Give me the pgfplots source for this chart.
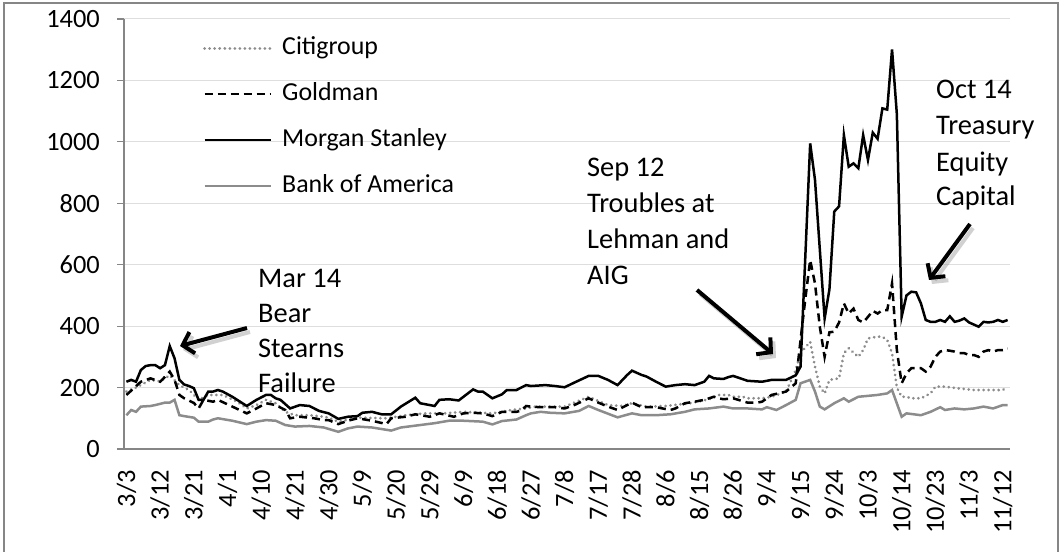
\documentclass[border=0pt]{standalone}
\usepackage{fontspec}
\setmainfont{Carlito}
\usepackage{pgfplots}
\pgfplotsset{compat=1.18}
\usetikzlibrary{arrows.meta}
\definecolor{citi}{RGB}{140,140,140}
\definecolor{bofa}{RGB}{140,140,140}
\definecolor{gridc}{RGB}{222,222,222}
\definecolor{axisc}{RGB}{134,134,134}
\begin{document}
\begin{tikzpicture}[x=1bp,y=1bp]
\useasboundingbox (0,0) rectangle (1061,552);
\draw[axisc, line width=1.8bp] (4,-5) -- (4,549) -- (1058,549) -- (1058,-5);
\begin{axis}[
  at={(124bp,103bp)}, anchor=south west,
  scale only axis, width=886bp, height=430bp,
  xmin=-0.5, xmax=183.5, ymin=0, ymax=1400,
  axis x line*=bottom, axis y line*=left,
  axis line style={axisc, line width=1.2bp},
  ytick={0,200,...,1400},
  /pgf/number format/assume math mode=true,
  /pgf/number format/1000 sep={},
  ymajorgrids, grid style={gridc, line width=1bp},
  ytick align=outside, ytick style={axisc, line width=1.2bp},
  major tick length=7bp,
  xtick={0,7,...,182},
  xticklabels={3/3,3/12,3/21,4/1,4/10,4/21,4/30,5/9,5/20,5/29,6/9,6/18,6/27,7/8,7/17,7/28,8/6,8/15,8/26,9/4,9/15,9/24,10/3,10/14,10/23,11/3,11/12},
  xtick style={draw=none},
  extra x ticks={-0.5,9.5,...,179.5},
  extra x tick labels={},
  extra x tick style={grid=none, tick align=outside, major tick length=8bp, tick style={axisc, line width=1.2bp}},
  ticklabel style={font=\fontsize{26.5}{30}\selectfont},
  xticklabel shift=21bp,
  xticklabel style={rotate=90, anchor=east, inner sep=0pt},
  yticklabel style={anchor=east, inner sep=0pt, xshift=-17bp},
  legend style={at={(rel axis cs:0.0858,0.965)}, anchor=north west, draw=none, fill=none,
    font=\fontsize{26}{30}\selectfont, row sep=22bp, column sep=10bp,
    nodes={inner sep=0pt, text height=18bp, text depth=6bp}},
  legend cell align=left,
  legend image code/.code={\draw[#1] (0bp,0bp) -- (66bp,0bp);},
]
\addplot[citi, line width=3bp, line cap=round, dash pattern=on 0.01bp off 5bp] coordinates {
(0,187)(2,200)(5,225)(7,220)(9,240)(11,208)(13,192)(15,160)(17,176)(20,176)(23,154)(25,132)(27,143)(29,160)(31,149)(33,121)(35,110)(38,110)(41,105)(42,102)(44,89)(48,102)(54,100)(58,110)(62,116)(66,116)(70,121)(76,116)(80,127)(83,132)(85,138)(91,138)(96,170)(100,143)(103,140)(105,149)(108,138)(112,140)(117,149)(121,162)(123,176)(125,176)(126,170)(128,170)(129,165)(132,165)(134,170)(137,187)(139,257)(140,312)(142,349)(143,268)(144,203)(145,181)(146,225)(148,230)(149,312)(150,328)(152,300)(153,322)(154,360)(156,366)(157,365)(158,355)(159,312)(160,200)(161,170)(162,170)(163,165)(165,165)(167,181)(168,203)(170,203)(173,197)(176,192)(180,192)(182,192)(183,203)};
\addlegendentry{Citigroup}
\addplot[black, line width=2.5bp, dash pattern=on 8bp off 5bp] coordinates {
(0,176)(1,190)(3,219)(5,230)(7,219)(8,235)(9,252)(10,225)(11,176)(12,165)(14,150)(15,132)(16,160)(18,154)(19,160)(22,138)(25,116)(27,132)(29,149)(31,143)(33,127)(34,100)(36,105)(39,100)(41,94)(42,94)(44,81)(46,92)(48,100)(51,92)(54,81)(55,100)(58,105)(60,113)(63,105)(65,116)(68,105)(70,116)(72,118)(74,116)(76,107)(78,121)(81,121)(82,125)(83,140)(84,138)(86,136)(89,136)(91,132)(93,143)(96,165)(98,151)(100,138)(102,127)(105,151)(107,136)(110,136)(112,130)(113,127)(114,132)(116,149)(118,154)(120,160)(122,170)(123,165)(124,162)(126,165)(129,151)(131,151)(132,154)(134,176)(137,187)(139,214)(140,355)(141,490)(142,615)(143,539)(144,398)(145,300)(146,380)(147,382)(148,412)(149,474)(150,441)(151,457)(152,420)(153,412)(154,430)(155,450)(156,441)(157,452)(158,452)(159,539)(160,322)(161,214)(162,246)(163,263)(164,263)(165,263)(166,252)(167,268)(168,300)(169,317)(170,322)(171,320)(172,317)(173,312)(174,312)(175,306)(176,306)(177,300)(178,317)(179,322)(180,317)(181,322)(182,322)(183,327)};
\addlegendentry{Goldman}
\addplot[black, line width=2.5bp] coordinates {
(0,219)(1,225)(2,219)(3,257)(4,270)(5,273)(6,273)(7,263)(8,273)(9,335)(10,295)(11,225)(12,210)(13,205)(14,198)(15,160)(16,160)(17,187)(18,187)(19,192)(20,187)(22,170)(25,140)(27,160)(29,176)(30,176)(31,165)(32,160)(34,132)(36,143)(38,140)(40,124)(42,116)(44,98)(46,105)(48,107)(49,118)(51,121)(53,113)(55,113)(57,138)(60,167)(61,149)(64,140)(65,160)(67,162)(69,158)(70,170)(72,194)(73,187)(74,187)(76,165)(78,178)(79,192)(81,192)(83,208)(84,205)(87,208)(89,205)(91,201)(93,216)(96,238)(98,238)(100,225)(102,208)(104,241)(105,255)(107,241)(108,236)(110,219)(112,203)(114,208)(116,211)(118,208)(120,219)(121,238)(122,230)(124,228)(125,234)(126,238)(129,222)(132,219)(134,225)(137,225)(139,240)(140,268)(141,630)(142,995)(143,876)(144,650)(145,425)(146,520)(147,773)(148,790)(149,1022)(150,919)(151,930)(152,914)(153,1022)(154,941)(155,1030)(156,1010)(157,1109)(158,1105)(159,1301)(160,1090)(161,431)(162,500)(163,512)(164,510)(165,474)(166,420)(167,414)(168,414)(169,420)(170,414)(171,432)(172,414)(173,418)(174,425)(175,412)(176,405)(177,398)(178,414)(179,412)(180,414)(181,420)(182,414)(183,420)};
\addlegendentry{Morgan Stanley}
\addplot[bofa, line width=2.5bp] coordinates {
(0,110)(1,127)(2,121)(3,138)(5,140)(6,143)(8,151)(9,151)(10,160)(11,110)(12,107)(14,102)(15,89)(17,89)(18,96)(19,100)(22,92)(25,81)(27,89)(29,94)(31,92)(33,78)(35,73)(38,75)(41,70)(44,56)(46,67)(48,73)(51,70)(55,60)(57,70)(61,78)(64,84)(67,92)(70,92)(74,89)(76,80)(78,91)(81,96)(83,110)(84,116)(86,121)(88,118)(91,116)(94,124)(96,140)(98,127)(102,103)(105,116)(107,110)(110,110)(113,113)(116,121)(118,129)(121,132)(123,136)(124,138)(126,132)(129,132)(132,129)(133,136)(135,127)(137,143)(139,160)(140,214)(142,225)(143,187)(144,138)(145,129)(147,149)(149,165)(150,154)(152,170)(154,173)(156,176)(158,181)(159,192)(161,105)(162,116)(165,110)(167,121)(169,136)(170,127)(172,132)(174,129)(176,132)(178,138)(180,132)(182,143)(183,143)};
\addlegendentry{Bank of America}
\end{axis}
\begin{scope}[font=\fontsize{28.5}{34}\selectfont]
\node[anchor=base west, inner sep=0pt] at (258,264) {Mar 14};
\node[anchor=base west, inner sep=0pt] at (258,229) {Bear};
\node[anchor=base west, inner sep=0pt] at (258,194) {Stearns};
\node[anchor=base west, inner sep=0pt] at (258,159) {Failure};
\node[anchor=base west, inner sep=0pt] at (587,375) {Sep 12};
\node[anchor=base west, inner sep=0pt] at (587,339) {Troubles at};
\node[anchor=base west, inner sep=0pt] at (587,303) {Lehman and};
\node[anchor=base west, inner sep=0pt] at (587,267) {AIG};
\node[anchor=base west, inner sep=0pt] at (936,453) {Oct 14};
\node[anchor=base west, inner sep=0pt] at (936,417) {Treasury};
\node[anchor=base west, inner sep=0pt] at (936,380) {Equity};
\node[anchor=base west, inner sep=0pt] at (936,346) {Capital};
\end{scope}
\begin{scope}[line width=4bp, -{Straight Barb[length=10bp,width=22bp]}]
\draw[black!40, opacity=0.45, shift={(3,-4)}] (247,224) -- (180,206);
\draw[black!40, opacity=0.45, shift={(3,-4)}] (697,262) -- (773,198);
\draw[black!40, opacity=0.45, shift={(3,-4)}] (970,328) -- (929,272);
\draw[black] (247,224) -- (180,206);
\draw[black] (697,262) -- (773,198);
\draw[black] (970,328) -- (929,272);
\end{scope}
\end{tikzpicture}
\end{document}
